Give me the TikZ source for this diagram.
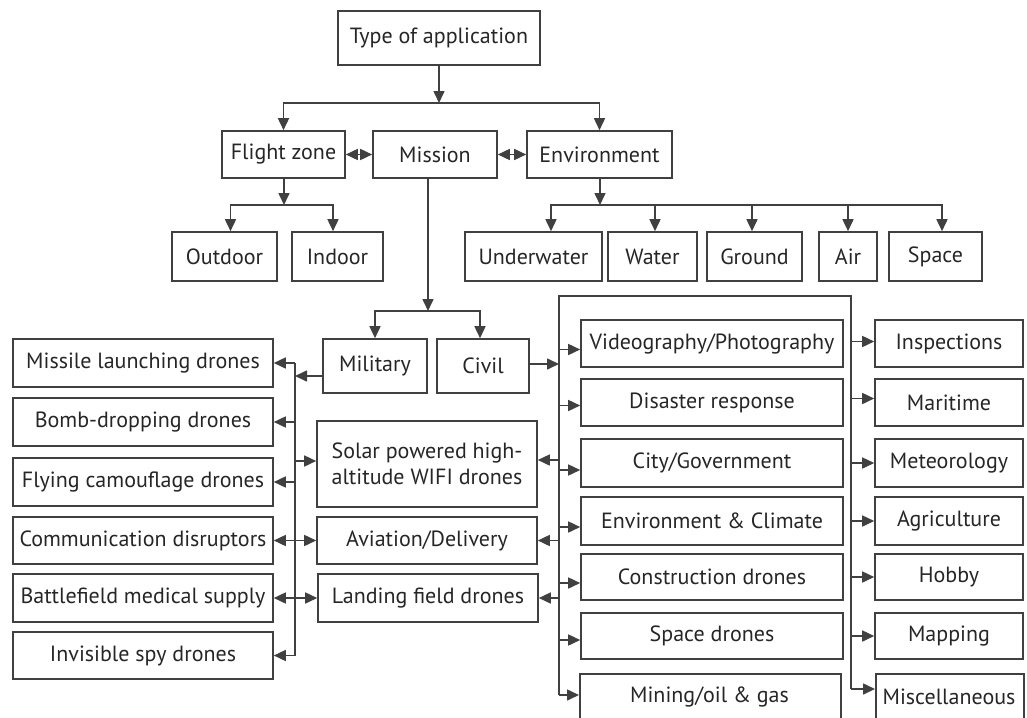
\documentclass[tikz,border=0pt]{standalone}
\usepackage{fontspec}
\setmainfont{PT Sans}
\usetikzlibrary{arrows.meta}
\definecolor{lc}{HTML}{404040}
\definecolor{tc}{HTML}{262626}
\newcommand{\mybox}[6]{\node[bx, minimum width={(#4-#2)*1pt}, minimum height={(#5-#3)*1pt}] (#1) at ({(#2+#4)/2},{(#3+#5)/2}) {#6};}
\begin{document}
\begin{tikzpicture}[x=1pt,y=-1pt,
  bx/.style={draw=lc, line width=1.6pt, text=tc, inner sep=0pt, align=center, font=\fontsize{22}{26}\selectfont},
  wire/.style={draw=lc, line width=1.6pt},
  arr/.style={wire, -{Triangle[length=12pt,width=11pt]}},
  darr/.style={wire, {Triangle[length=12pt,width=11pt]}-{Triangle[length=12pt,width=11pt]}}]
\useasboundingbox (0,0) rectangle (1027,717);
\clip (0,0) rectangle (1027,717);
% top levels
\mybox{type}{338}{11}{540}{65}{Type of application}
\mybox{flight}{222}{131}{345}{178}{Flight zone}
\mybox{mission}{373}{131}{497}{178}{Mission}
\mybox{env}{527}{131}{672}{178}{Environment}
\mybox{outdoor}{172}{232}{277}{281}{Outdoor}
\mybox{indoor}{292}{232}{383}{281}{Indoor}
\mybox{underwater}{465}{232}{602}{281}{Underwater}
\mybox{water}{608}{232}{697}{281}{Water}
\mybox{ground}{707}{232}{802}{281}{Ground}
\mybox{air}{819}{232}{877}{281}{Air}
\mybox{space}{889}{232}{982}{281}{Space}
\mybox{military}{323}{339}{427}{393}{Military}
\mybox{civil}{437}{339}{529}{393}{Civil}
% military column
\mybox{missile}{13}{339}{273}{387}{Missile launching drones}
\mybox{bomb}{13}{398}{273}{446}{Bomb-dropping drones}
\mybox{flying}{13}{458}{273}{506}{Flying camouflage drones}
\mybox{comm}{13}{517}{273}{564}{Communication disruptors}
\mybox{battle}{13}{574}{273}{622}{Battlefield medical supply}
\mybox{invisible}{13}{632}{273}{679}{Invisible spy drones}
% shared column
\mybox{solar}{317}{421}{537}{507}{Solar powered high-\\altitude WIFI drones}
\mybox{aviation}{317}{517}{537}{564}{Aviation/Delivery}
\mybox{landing}{318}{574}{538}{622}{Landing field drones}
% civil column
\mybox{video}{581}{320}{843}{367}{Videography/Photography}
\mybox{disaster}{581}{379}{843}{426}{Disaster response}
\mybox{city}{581}{439}{843}{487}{City/Government}
\mybox{envclim}{581}{497}{843}{545}{Environment \& Climate}
\mybox{constr}{581}{554}{843}{600}{Construction drones}
\mybox{spacedr}{581}{613}{843}{659}{Space drones}
\node[bx, minimum width=261pt, minimum height=80pt, anchor=north west] (mining) at (579,673) {};
\node[text=tc, font=\fontsize{22}{26}\selectfont] (miningtxt) at (709.5,697) {Mining/oil \& gas};
% right column
\mybox{inspections}{875}{320}{1023}{367}{Inspections}
\mybox{maritime}{875}{379}{1023}{426}{Maritime}
\mybox{meteorology}{875}{439}{1023}{487}{Meteorology}
\mybox{agriculture}{875}{497}{1023}{545}{Agriculture}
\mybox{hobby}{875}{554}{1023}{600}{Hobby}
\mybox{mapping}{875}{613}{1023}{659}{Mapping}
\node[bx, minimum width=148pt, minimum height=80pt, anchor=north west] (misc) at (875,673) {};
\node[text=tc, font=\fontsize{22}{26}\selectfont] (misctxt) at (949,697) {Miscellaneous};
% helper coordinates
\coordinate (busA) at (439,103);
\coordinate (busB) at (284,205);
\coordinate (busC) at (600,205);
\coordinate (busD) at (428,311);
\coordinate (lx) at (295,0);
\coordinate (rx) at (559,0);
\coordinate (rrx) at (851,0);
\coordinate (rtop) at (559,296);
\coordinate (rrtop) at (851,296);
\coordinate (miny) at (0,695);
\coordinate (misy) at (0,689);
% top connectors
\draw[arr] (type.south -| busA) -- (busA);
\draw[arr] (busA) -| (flight.north);
\draw[arr] (busA) -| (env.north);
\draw[darr] (flight.east) -- (mission.west);
\draw[darr] (mission.east) -- (env.west);
\draw[arr] (flight.south -| busB) -- (busB);
\draw[arr] (busB) -| ([xshift=6pt]outdoor.north);
\draw[arr] (busB) -| ([xshift=-4.5pt]indoor.north);
\draw[arr] (env.south -| busC) -- (busC);
\draw[arr] (busC) -| ([xshift=17.5pt]underwater.north);
\draw[arr] (busC) -| ([xshift=2.5pt]water.north);
\draw[arr] (busC) -| ([xshift=-2.5pt]ground.north);
\draw[arr] (busC) -| (air.north);
\draw[arr] (busC) -| ([xshift=6.5pt]space.north);
\draw[arr] (mission.south -| busD) -- (busD);
\draw[arr] (busD) -| (military.north);
\draw[arr] (busD) -| ([xshift=-3pt]civil.north);
% military bus
\draw[arr] ([yshift=-10pt]military.west) -- ([yshift=-10pt]military.west -| lx);
\draw[wire] (missile.east -| lx) -- (invisible.east -| lx);
\draw[arr] (missile.east -| lx) -- (missile.east);
\draw[arr] (bomb.east -| lx) -- (bomb.east);
\draw[arr] (flying.east -| lx) -- (flying.east);
\draw[arr] (invisible.east -| lx) -- (invisible.east);
\draw[arr] ([yshift=3pt]solar.west -| lx) -- ([yshift=3pt]solar.west);
\draw[darr] (comm.east) -- (aviation.west);
\draw[darr] (battle.east) -- (landing.west);
% civil bus
\draw[arr] ([yshift=2pt]civil.east) -- ([yshift=2pt]civil.east -| rx);
\draw[wire] (miny -| rx) -- (rtop) -- (rrtop) -- (misy -| rrx);
\draw[arr] ([yshift=4pt]solar.east -| rx) -- ([yshift=4pt]solar.east);
\draw[arr] (aviation.east -| rx) -- (aviation.east);
\draw[arr] (landing.east -| rx) -- (landing.east);
\draw[arr] ([yshift=-6pt]video.west -| rx) -- ([yshift=-6pt]video.west);
\draw[arr] ([yshift=-3pt]disaster.west -| rx) -- ([yshift=-3pt]disaster.west);
\draw[arr] ([yshift=-7pt]city.west -| rx) -- ([yshift=-7pt]city.west);
\draw[arr] ([yshift=-6pt]envclim.west -| rx) -- ([yshift=-6pt]envclim.west);
\draw[arr] ([yshift=-6pt]constr.west -| rx) -- ([yshift=-6pt]constr.west);
\draw[arr] ([yshift=-4pt]spacedr.west -| rx) -- ([yshift=-4pt]spacedr.west);
\draw[arr] (miny -| rx) -- (miny -| mining.west);
\draw[arr] ([yshift=2pt]inspections.west -| rrx) -- ([yshift=2pt]inspections.west);
\draw[arr] ([yshift=4pt]maritime.west -| rrx) -- ([yshift=4pt]maritime.west);
\draw[arr] (meteorology.west -| rrx) -- (meteorology.west);
\draw[arr] (agriculture.west -| rrx) -- (agriculture.west);
\draw[arr] (hobby.west -| rrx) -- (hobby.west);
\draw[arr] (mapping.west -| rrx) -- (mapping.west);
\draw[arr] (misy -| rrx) -- (misy -| misc.west);
\end{tikzpicture}
\end{document}
